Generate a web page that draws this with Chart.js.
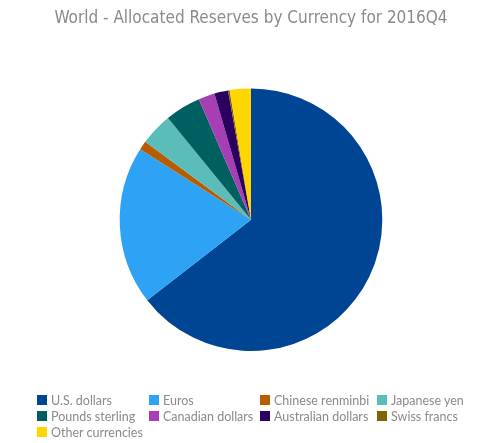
<!DOCTYPE html>
<html>
<head>
<meta charset="utf-8">
<script src="https://cdn.jsdelivr.net/npm/chart.js@4"></script>
<style>
  body { margin: 0; background: #fff; }
  #wrap { position: relative; width: 493px; height: 443px; }
  #legend { position: absolute; left: 0; top: 0; width: 493px; height: 443px; pointer-events: none; }
  .item { position: absolute; height: 16px; display: flex; align-items: center; font: 12.5px Lato, sans-serif; color: #8a8a8a; white-space: nowrap; }
  .box { width: 10px; height: 10px; margin-right: 4px; }
</style>
</head>
<body>
<div id="wrap">
  <canvas id="chart" width="493" height="443"></canvas>
  <div id="legend"></div>
</div>
<script>
const categories = ['U.S. dollars', 'Euros', 'Chinese renminbi', 'Japanese yen',
  'Pounds sterling', 'Canadian dollars', 'Australian dollars', 'Swiss francs', 'Other currencies'];
const shares = [64.5, 19.5, 1.1, 4.0, 4.4, 2.0, 1.7, 0.2, 2.6];
const colors = [
  '#004494', // dark blue
  '#2ea3f6', // light blue
  '#b85c00', // rust
  '#5bbdb9', // teal
  '#006060', // dark teal
  '#a63fb3', // purple
  '#2c0060', // indigo
  '#806400', // olive
  '#ffd600', // yellow
];

const ctx = document.getElementById('chart').getContext('2d');
new Chart(ctx, {
  type: 'pie',
  data: {
    labels: categories,
    datasets: [{
      data: shares,
      backgroundColor: colors,
      borderWidth: 0,
    }],
  },
  options: {
    responsive: false,
    animation: false,
    layout: { padding: { left: 9, bottom: 92 } },
    plugins: {
      legend: { display: false },
      tooltip: { enabled: false },
      title: {
        display: true,
        text: 'World - Allocated Reserves by Currency for 2016Q4',
        color: '#8a8a8a',
        font: { family: "'DejaVu Sans Condensed', sans-serif", size: 17, weight: 'normal' },
        padding: { top: 8, bottom: 60 },
      },
    },
  },
});

// legend laid out in fixed columns like the original
const colX = [37, 149, 260, 377];
const rowY = [392, 408, 424];
const legend = document.getElementById('legend');
categories.forEach((name, i) => {
  const el = document.createElement('div');
  el.className = 'item';
  el.style.left = colX[i % 4] + 'px';
  el.style.top = rowY[Math.floor(i / 4)] + 'px';
  el.innerHTML = '<span class="box" style="background:' + colors[i] + '"></span>' + name;
  legend.appendChild(el);
});
</script>
</body>
</html>
